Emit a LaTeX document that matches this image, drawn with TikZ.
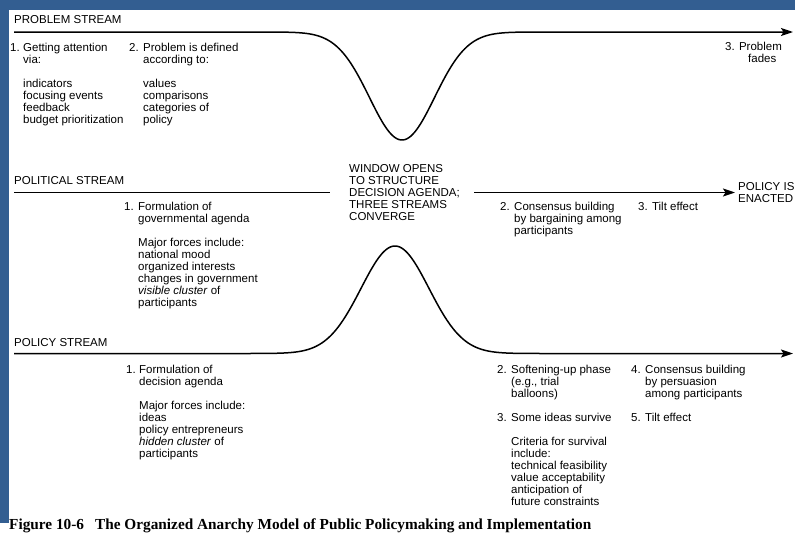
\documentclass[tikz,border=0pt]{standalone}
\usepackage{fontspec}
\setmainfont{Liberation Sans}
\newfontfamily\capfont{Liberation Serif}
\usetikzlibrary{arrows.meta}
\definecolor{frameblue}{RGB}{51,94,145}
\newcommand\blk[1]{\begin{tabular}[t]{@{}l@{}}#1\end{tabular}}
\begin{document}
\begin{tikzpicture}[x=1pt,y=-1pt,
  txt/.style={font=\fontsize{11.5}{12}\selectfont, inner sep=0pt, anchor=base west},
  stream/.style={line width=1.5pt, line join=round},
  arr/.style={-{Stealth[length=12pt,width=8pt,inset=2.5pt]}}]
\useasboundingbox (0,0) rectangle (795,533);
\clip (0,0) rectangle (795,533);
% background frame
\fill[frameblue] (0,0) rectangle (795,533);
\fill[white] (8.5,10) rectangle (795,533);
\fill[white] (0,523) rectangle (8.5,533);

% ---------- coordinates ----------
\coordinate (pbS) at (14,32);
\coordinate (pbE) at (793,32);
\coordinate (poS) at (14,192.5);
\coordinate (poM) at (330,192.5);
\coordinate (poA) at (474,192.5);
\coordinate (poB) at (735,192.5);
\coordinate (plS) at (14,353.5);
\coordinate (plE) at (793,353.5);

% ---------- streams ----------
\draw[stream,arr] (pbS) -- (258,32)
  -- plot[domain=258:546,samples=150] (\x,{32+108*exp(-((\x-402)/46)^2)})
  -- (pbE);
\draw[stream] (poS) -- (poM);
\draw[stream,arr] (poA) -- (poB);
\draw[stream,arr] (plS) -- (250,353.5)
  -- plot[domain=250:540,samples=150] (\x,{353.5-107.5*exp(-((\x-395)/48)^2)})
  -- (plE);

% ---------- problem stream text ----------
\node[txt] (pbT) at (14,23.5) {PROBLEM STREAM};
\node[txt] (pb1n) at (10,51) {1.};
\node[txt] (pb1) at (23,51) {\blk{Getting attention\\via:\\ \\indicators\\focusing events\\feedback\\budget prioritization}};
\node[txt] (pb2n) at (129,51) {2.};
\node[txt] (pb2) at (143,51) {\blk{Problem is defined\\according to:\\ \\values\\comparisons\\categories of\\policy}};
\node[txt] (pb3) at (725,50) {3. Problem};
\node[txt] (pb3b) at (748,62) {fades};

% ---------- political stream text ----------
\node[txt] (poT) at (14,184.5) {POLITICAL STREAM};
\node[txt] (po1n) at (124,210) {1.};
\node[txt] (po1) at (138,210) {\blk{Formulation of\\governmental agenda\\ \\Major forces include:\\national mood\\organized interests\\changes in government\\\textit{visible cluster} of\\participants}};
\node[txt] (win) at (349,172) {\blk{WINDOW OPENS\\TO STRUCTURE\\DECISION AGENDA;\\THREE STREAMS\\CONVERGE}};
\node[txt] (po2n) at (500,210) {2.};
\node[txt] (po2) at (514,210) {\blk{Consensus building\\by bargaining among\\participants}};
\node[txt] (po3) at (638,210) {3. Tilt effect};
\node[txt] (poE) at (738,190.5) {\blk{POLICY IS\\ENACTED}};

% ---------- policy stream text ----------
\node[txt] (plT) at (14,346.5) {POLICY STREAM};
\node[txt] (pl1n) at (126,373.5) {1.};
\node[txt] (pl1) at (139,373.5) {\blk{Formulation of\\decision agenda\\ \\Major forces include:\\ideas\\policy entrepreneurs\\\textit{hidden cluster} of\\participants}};
\node[txt] (pl2n) at (497,373.5) {2.};
\node[txt] (pl2) at (511,373.5) {\blk{Softening-up phase\\(e.g., trial\\balloons)}};
\node[txt] (pl3n) at (497,421.5) {3.};
\node[txt] (pl3) at (511,421.5) {\blk{Some ideas survive\\ \\Criteria for survival\\include:\\technical feasibility\\value acceptability\\anticipation of\\future constraints}};
\node[txt] (pl4n) at (631,373.5) {4.};
\node[txt] (pl4) at (645,373.5) {\blk{Consensus building\\by persuasion\\among participants}};
\node[txt] (pl5n) at (631,421.5) {5.};
\node[txt] (pl5) at (645,421.5) {Tilt effect};

% ---------- caption ----------
\node[inner sep=0pt, anchor=base west, font=\capfont\bfseries\fontsize{15.3}{16}\selectfont] (cap) at (9,529)
  {Figure 10-6\hspace{11pt}The Organized Anarchy Model of Public Policymaking and Implementation};
\end{tikzpicture}
\end{document}
